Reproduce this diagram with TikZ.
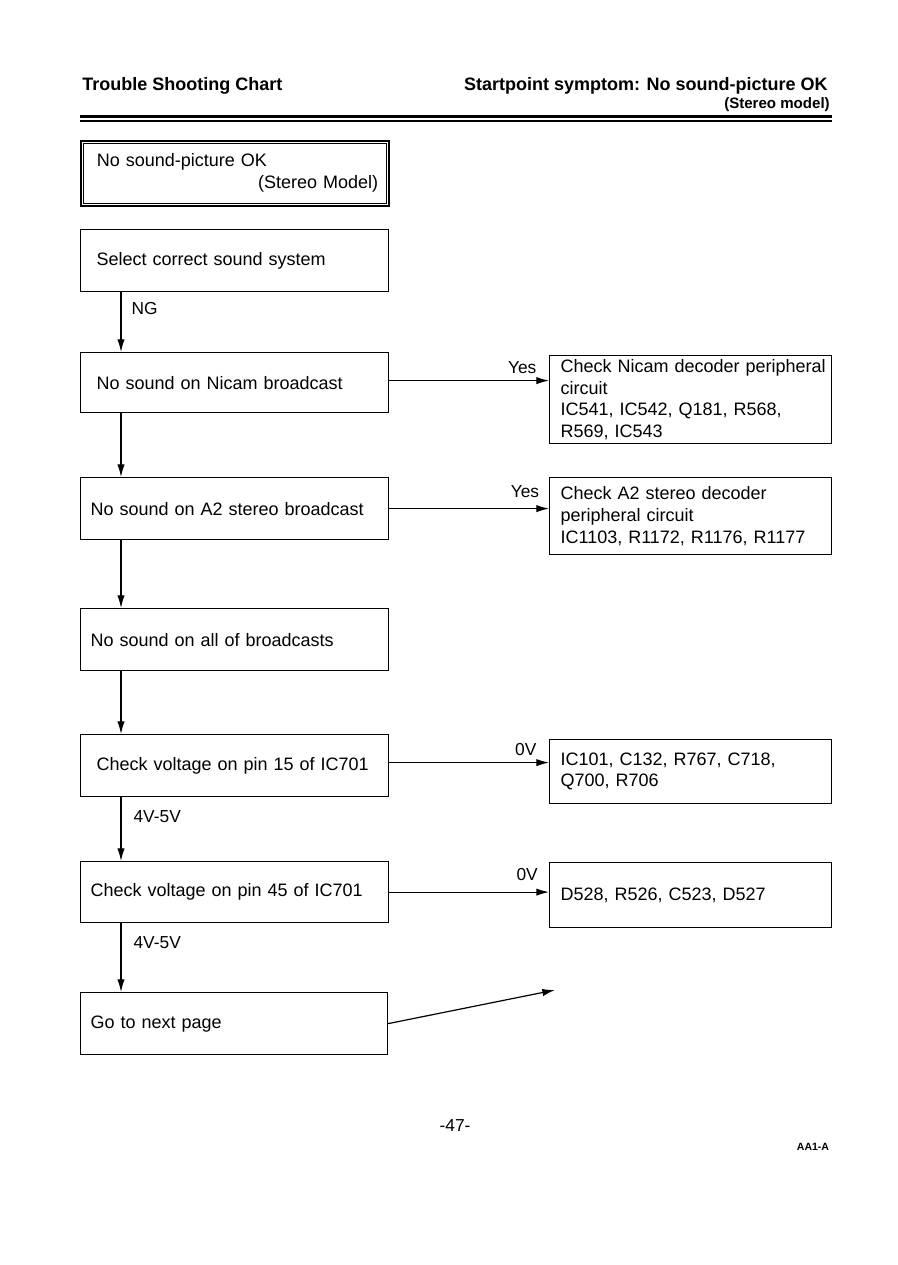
\documentclass[tikz,border=0pt]{standalone}
\usepackage{fontspec}
\setmainfont{Liberation Sans}
\usetikzlibrary{arrows.meta}
\begin{document}
\begin{tikzpicture}[x=0.75pt,y=-0.75pt,
  txt/.style={font=\fontsize{13}{16}\selectfont, inner sep=0pt},
  lboxA/.style={draw, line width=0.9pt, anchor=north west, minimum width=231pt,
    minimum height=46.5pt, inner xsep=12pt, inner ysep=0pt, text width=207pt,
    align=left, font=\fontsize{13.5}{16.2}\selectfont},
  lboxB/.style={lboxA, inner xsep=7.5pt, text width=216pt},
  rbox/.style={lboxA, minimum width=211.5pt, inner xsep=8.25pt, text width=195pt},
  arr/.style={line width=0.9pt, -{Latex[length=9.5pt,width=5.5pt]}},
  lbl/.style={txt}
]
\useasboundingbox (0,0) rectangle (897,1265);

% header
\node[anchor=west, inner sep=0pt, font=\fontsize{13.5}{16}\selectfont\bfseries] (h1) at (82,86) {Trouble Shooting Chart};
\node[anchor=east, inner sep=0pt, font=\fontsize{13.5}{16}\selectfont\bfseries] (h2) at (828,86) {Startpoint symptom: No sound-picture OK};
\node[anchor=east, inner sep=0pt, font=\fontsize{11.3}{13}\selectfont\bfseries] (h3) at (830,105) {(Stereo model)};
\draw[line width=1.6pt] (80,116.5) -- (832,116.5);
\draw[line width=0.8pt] (80,121) -- (832,121);

% left column
\node[lboxA, minimum height=48.75pt, line width=1.2pt, font=\fontsize{13.5}{16.5}\selectfont] (b1) at (80,140) {No sound-picture OK\\\makebox[211pt][r]{(Stereo Model)}};
\draw[line width=0.5pt] ([shift={(3.5,3.5)}]b1.north west) rectangle ([shift={(-3.5,-3.5)}]b1.south east);

\node[lboxA] (b2) at (80,229) {Select correct sound system};
\node[lboxA, minimum height=45pt] (b3) at (80,352) {No sound on Nicam broadcast};
\node[lboxB] (b4) at (80,477) {No sound on A2 stereo broadcast};
\node[lboxB] (b5) at (80,608) {No sound on all of broadcasts};
\node[lboxA] (b6) at (80,734) {Check voltage on pin 15 of IC701};
\node[lboxB, minimum height=45.75pt] (b7) at (80,861) {Check voltage on pin 45 of IC701};
\node[lboxB, minimum width=230.25pt, text width=215.25pt] (b8) at (80,992) {Go to next page};

% right column
\node[rbox, minimum height=66pt] (r1) at (549,355) {\mbox{Check Nicam decoder peripheral}\\circuit\\IC541, IC542, Q181, R568,\\R569, IC543};
\node[rbox, minimum height=57.75pt] (r2) at (549,477) {Check A2 stereo decoder\\peripheral circuit\\IC1103, R1172, R1176, R1177};
\node[rbox, minimum width=210.75pt, minimum height=48pt] (r3) at (549,739) {IC101, C132, R767, C718,\\Q700, R706};
\node[rbox, minimum width=210.75pt, minimum height=48.75pt] (r4) at (549,862) {D528, R526, C523, D527};

% vertical connectors
\draw[arr] ([xshift=30.75pt]b2.south west) -- ([xshift=30.75pt]b3.north west)
  node[lbl, pos=0, anchor=north west, xshift=7.5pt, yshift=-7pt] {NG};
\draw[arr] ([xshift=30.75pt]b3.south west) -- ([xshift=30.75pt]b4.north west);
\draw[arr] ([xshift=30.75pt]b4.south west) -- ([xshift=30.75pt]b5.north west);
\draw[arr] ([xshift=30.75pt]b5.south west) -- ([xshift=30.75pt]b6.north west);
\draw[arr] ([xshift=30.75pt]b6.south west) -- ([xshift=30.75pt]b7.north west)
  node[lbl, pos=0, anchor=north west, xshift=9pt, yshift=-9.5pt] {4V-5V};
\draw[arr] ([xshift=30.75pt]b7.south west) -- ([xshift=30.75pt]b8.north west)
  node[lbl, pos=0, anchor=north west, xshift=9pt, yshift=-9.5pt] {4V-5V};

% horizontal connectors
\draw[arr] ([yshift=1.5pt]b3.east) -- ([yshift=1.5pt]b3.east -| r1.west)
  node[lbl, pos=1, anchor=south east, xshift=-9pt, yshift=5pt] {Yes};
\draw[arr] (b4.east) -- (b4.east -| r2.west)
  node[lbl, pos=1, anchor=south east, xshift=-7pt, yshift=7.5pt] {Yes};
\draw[arr] ([yshift=2.25pt]b6.east) -- ([yshift=2.25pt]b6.east -| r3.west)
  node[lbl, pos=1, anchor=south east, xshift=-9pt, yshift=5pt] {0V};
\draw[arr] (b7.east) -- (b7.east -| r4.west)
  node[lbl, pos=1, anchor=south east, xshift=-8pt, yshift=8pt] {0V};
\coordinate (c8) at (555,990);
\draw[arr] (b8.east) -- (c8);

% footer
\node[txt] (pg) at (455,1126) {-47-};
\node[inner sep=0pt, font=\fontsize{7.9}{9}\selectfont\bfseries] (code) at (813,1147) {AA1-A};
\end{tikzpicture}
\end{document}
